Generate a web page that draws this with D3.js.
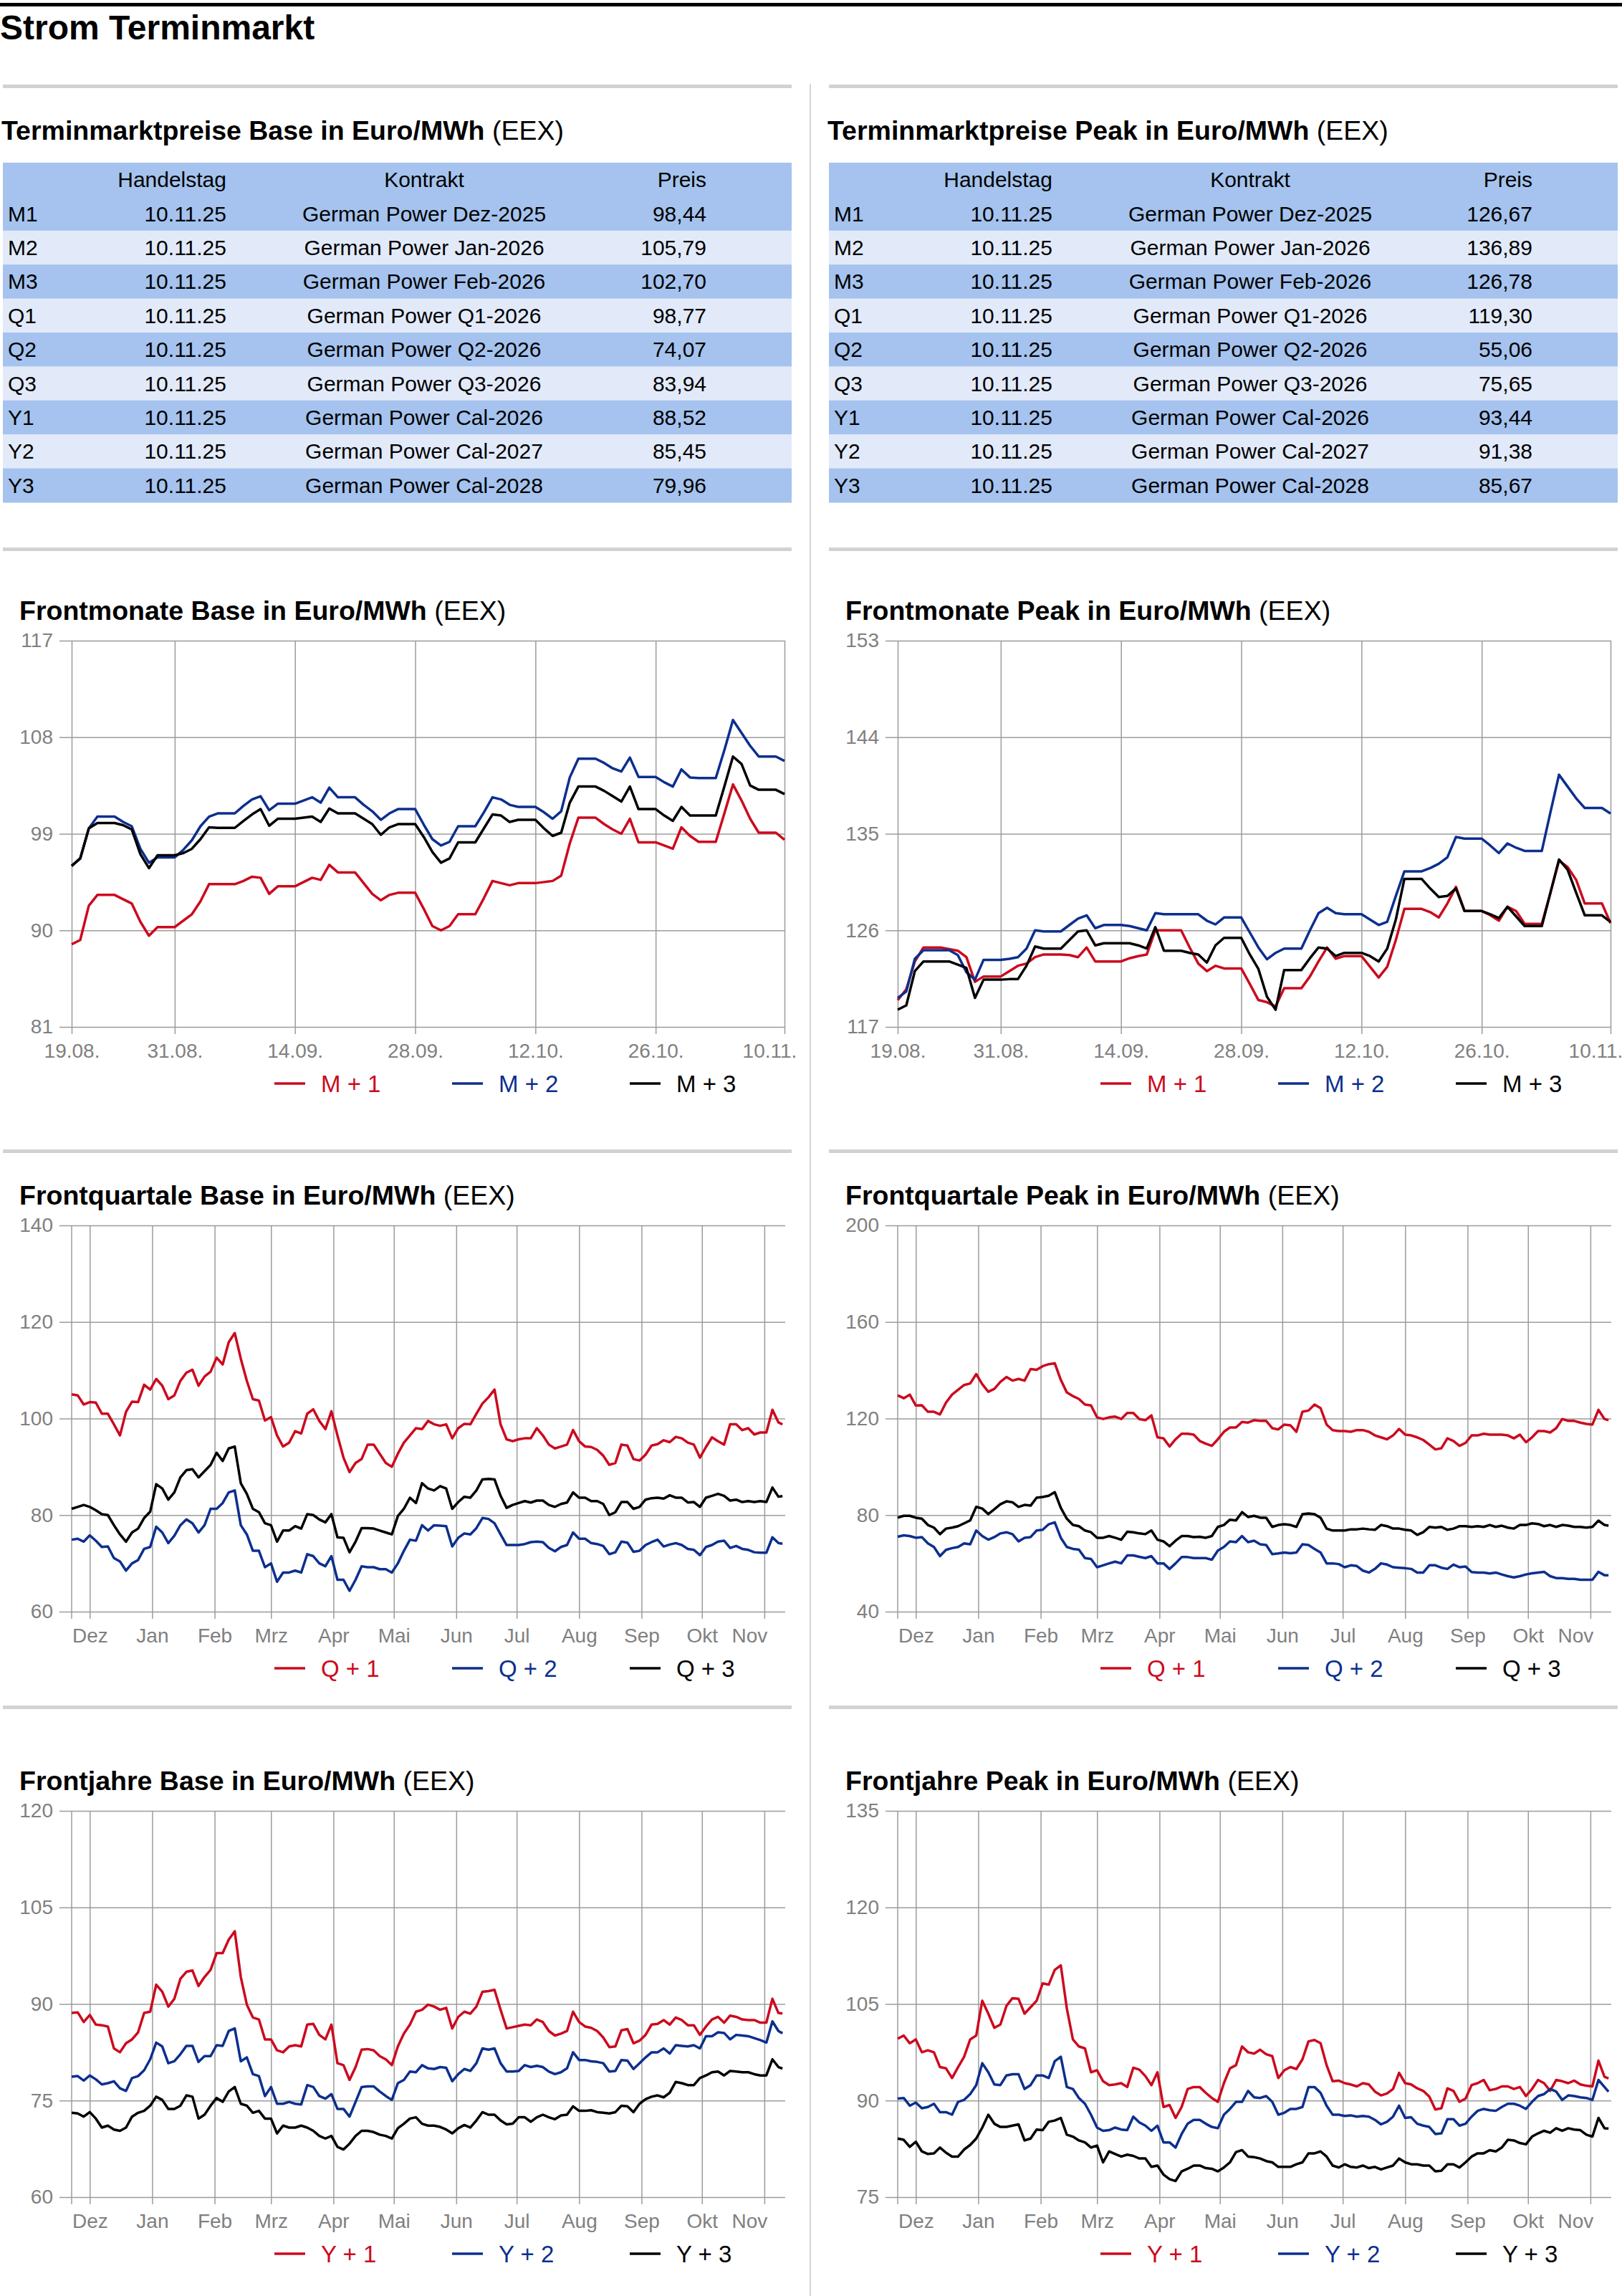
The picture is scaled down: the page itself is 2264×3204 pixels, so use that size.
<!DOCTYPE html>
<html>
<head>
<meta charset="utf-8">
<script src="https://cdn.jsdelivr.net/npm/d3@7"></script>
<style>
  body { margin: 0; background: #fff; }
  svg text { font-family: "Liberation Sans", Arial, Helvetica, sans-serif; }
</style>
</head>
<body>
<div id="svg-container"></div>
<script>
////////////////////////////////////////////////////////////////////
////////////////////////////  Data  ////////////////////////////////
const parseDate = d3.timeParse("%Y-%m-%d");

// tables
const tableHeader = ["Handelstag", "Kontrakt", "Preis"];
const rowLabels = ["M1", "M2", "M3", "Q1", "Q2", "Q3", "Y1", "Y2", "Y3"];
const tradeDate = "10.11.25";
const contracts = [
  "German Power Dez-2025", "German Power Jan-2026", "German Power Feb-2026",
  "German Power Q1-2026", "German Power Q2-2026", "German Power Q3-2026",
  "German Power Cal-2026", "German Power Cal-2027", "German Power Cal-2028"
];
const basePrices = ["98,44", "105,79", "102,70", "98,77", "74,07", "83,94", "88,52", "85,45", "79,96"];
const peakPrices = ["126,67", "136,89", "126,78", "119,30", "55,06", "75,65", "93,44", "91,38", "85,67"];

// Frontmonate: daily values 19.08.2025 - 10.11.2025
const monthDates = d3.timeDay.range(parseDate("2025-08-19"), parseDate("2025-11-11"));
const monthTicks = ["2025-08-19", "2025-08-31", "2025-09-14", "2025-09-28", "2025-10-12", "2025-10-26", "2025-11-10"];
const monthTickLabels = ["19.08.", "31.08.", "14.09.", "28.09.", "12.10.", "26.10.", "10.11."];

const baseM1 = [88.7,89.1,92.3,93.3,93.3,93.3,92.9,92.5,90.8,89.5,90.3,90.3,90.3,90.9,91.5,92.7,94.3,94.3,94.3,94.3,
  94.6,95.0,94.9,93.4,94.1,94.1,94.1,94.5,94.9,94.7,96.1,95.4,95.4,95.4,94.4,93.4,92.8,93.3,93.5,93.5,
  93.5,92.0,90.4,90.0,90.4,91.5,91.5,91.5,93.0,94.6,94.4,94.2,94.4,94.4,94.4,94.5,94.6,95.1,98.1,100.5,
  100.5,100.5,99.9,99.4,99.0,100.4,98.2,98.2,98.2,97.9,97.6,99.6,98.8,98.25,98.25,98.25,100.9,103.6,102.1,100.4,
  99.1,99.1,99.1,98.44];
const baseM2 = [96.0,96.7,99.5,100.6,100.6,100.6,100.1,99.7,97.6,96.3,96.8,96.8,96.8,97.5,98.4,99.7,100.6,100.9,100.9,100.9,
  101.6,102.2,102.5,101.2,101.8,101.8,101.8,102.1,102.4,101.9,103.3,102.4,102.4,102.4,101.7,101.1,100.3,100.9,101.3,101.3,
  101.3,99.85,98.5,97.9,98.25,99.7,99.7,99.7,101.0,102.4,102.2,101.7,101.5,101.5,101.5,101.0,100.4,101.1,104.25,106.0,
  106.0,106.0,105.6,105.1,104.8,106.1,104.3,104.3,104.3,103.8,103.4,105.0,104.25,104.2,104.2,104.2,106.8,109.6,108.4,107.2,
  106.2,106.2,106.2,105.79];
const baseM3 = [96.0,96.7,99.5,100.0,100.0,100.0,99.8,99.4,97.1,95.8,97.0,97.0,97.0,97.2,97.6,98.5,99.6,99.55,99.55,99.55,
  100.2,100.8,101.3,99.75,100.4,100.4,100.4,100.5,100.6,100.1,101.35,100.9,100.9,100.9,100.4,99.9,98.9,99.6,99.9,99.9,
  99.9,98.7,97.3,96.3,96.7,98.2,98.2,98.2,99.5,100.8,100.7,100.1,100.3,100.3,100.3,99.5,98.8,99.1,101.9,103.4,
  103.4,103.4,103.0,102.5,102.0,103.4,101.3,101.3,101.3,100.7,100.2,101.5,100.7,100.7,100.7,100.7,103.4,106.2,105.5,103.5,
  103.1,103.1,103.1,102.70];

const peakM1 = [119.5,120.5,123.1,124.4,124.4,124.4,124.25,124.1,123.5,121.2,121.7,121.7,121.7,122.2,122.7,122.9,123.5,123.75,123.75,123.75,
  123.7,123.5,124.4,123.1,123.1,123.1,123.1,123.4,123.6,123.75,126.0,126.0,126.0,126.0,124.4,122.9,122.2,122.7,122.45,122.45,
  122.45,121.0,119.5,119.3,118.9,120.6,120.6,120.6,121.7,123.1,124.4,123.35,123.6,123.6,123.6,122.6,121.6,122.6,125.1,128.0,
  128.0,128.0,127.7,127.2,128.5,130.05,127.8,127.8,127.8,127.4,126.9,128.2,127.8,126.6,126.6,126.6,129.5,132.5,131.9,130.7,
  128.5,128.5,128.5,126.67];
const peakM2 = [119.7,120.3,123.35,124.15,124.15,124.15,124.15,123.7,122.1,121.4,123.25,123.25,123.25,123.35,123.5,124.3,126.0,125.9,125.9,125.9,
  126.5,127.1,127.4,126.2,126.5,126.5,126.5,126.4,126.2,126.0,127.6,127.5,127.5,127.5,127.5,127.5,126.9,126.55,127.2,127.2,
  127.2,125.8,124.4,123.3,123.9,124.3,124.3,124.3,126.0,127.6,128.1,127.6,127.5,127.5,127.5,127.0,126.5,126.8,129.2,131.5,
  131.5,131.5,131.8,132.2,132.8,134.7,134.55,134.55,134.55,133.9,133.2,134.1,133.7,133.4,133.4,133.4,137.0,140.5,139.4,138.3,
  137.4,137.4,137.4,136.89];
const peakM3 = [118.6,119.0,122.2,123.1,123.1,123.1,123.1,122.8,122.5,119.7,121.4,121.4,121.4,121.45,121.45,122.7,124.5,124.3,124.3,124.3,
  125.1,125.9,126.0,124.6,124.8,124.8,124.8,124.8,124.6,124.3,126.3,124.1,124.1,124.1,123.9,123.75,123.0,124.6,125.3,125.3,
  125.3,123.75,122.4,119.8,118.6,122.3,122.3,122.3,123.4,124.4,124.3,123.6,123.9,123.9,123.9,123.6,123.1,124.3,127.0,130.8,
  130.8,130.8,129.9,129.1,129.2,129.9,127.8,127.8,127.8,127.5,127.15,128.2,127.3,126.4,126.4,126.4,129.5,132.6,131.65,129.5,
  127.4,127.4,127.4,126.78];

// Frontquartale / Frontjahre: values read every third day from 22.11.2024, last one 10.11.2025
const yearDates = d3.timeDay.range(parseDate("2024-11-22"), parseDate("2025-11-09"), 3)
  .concat([parseDate("2025-11-10")]);
const yearTicks = ["2024-12-01", "2025-01-01", "2025-02-01", "2025-03-01", "2025-04-01", "2025-05-01",
  "2025-06-01", "2025-07-01", "2025-08-01", "2025-09-01", "2025-10-01", "2025-11-01"];
const yearTickLabels = ["Dez", "Jan", "Feb", "Mrz", "Apr", "Mai", "Jun", "Jul", "Aug", "Sep", "Okt", "Nov"];

const baseQ1 = [105.0,104.8,102.9,103.4,103.3,101.0,101.0,98.8,96.5,101.4,
  103.5,103.4,107.0,106.0,108.2,106.8,104.0,104.8,107.8,109.5,
  110.1,106.8,108.7,109.7,112.6,111.2,115.8,117.7,112.4,107.8,
  104.0,103.7,99.6,100.3,96.5,94.2,95.0,97.4,96.9,101.0,
  101.9,99.5,97.8,101.5,96.5,91.9,88.9,90.8,91.6,94.6,
  94.6,92.7,90.8,90.0,92.7,95.0,96.5,98.0,97.8,99.5,
  98.8,98.5,98.8,95.9,98.0,98.9,98.8,101.0,103.1,104.4,
  106.0,98.8,95.7,95.3,95.7,95.9,95.9,98.0,96.5,94.6,
  93.8,94.2,94.6,97.6,95.3,94.2,94.1,93.5,92.3,90.4,
  90.8,94.6,94.4,91.6,91.3,92.5,94.4,94.7,95.5,95.1,
  96.2,95.9,95.0,94.6,91.9,94.1,96.1,95.3,94.6,98.8,
  98.8,97.6,98.0,96.7,97.1,97.1,101.8,99.2,98.77];
const baseQ2 = [74.9,75.1,74.5,75.8,74.7,73.4,73.5,71.1,70.4,68.5,
  70.0,70.7,73.0,73.4,77.6,76.4,74.2,75.7,77.9,79.1,
  78.3,76.4,77.9,81.3,81.3,82.5,84.7,85.1,77.9,76.0,
  72.6,72.6,69.2,70.0,66.2,68.1,68.1,68.5,68.1,71.9,
  71.5,70.0,69.4,71.5,66.6,66.6,64.3,66.6,69.4,69.2,
  69.2,68.8,68.8,68.1,70.0,72.6,74.9,74.7,77.9,76.8,
  77.9,77.8,77.7,73.5,75.3,76.2,76.0,77.3,79.4,79.2,
  78.3,76.0,73.8,73.8,73.8,74.0,74.4,74.5,74.4,73.2,
  72.5,73.4,73.8,76.4,75.1,75.1,74.2,74.0,73.6,71.9,
  72.3,74.5,74.3,72.4,72.6,73.8,74.4,74.9,73.5,73.9,
  74.2,73.8,73.0,72.8,71.7,73.4,73.8,74.5,74.7,73.2,
  73.6,73.0,72.8,72.3,72.2,72.2,75.4,74.2,74.07];
const baseQ3 = [81.3,81.7,82.1,81.7,81.0,80.2,80.0,77.9,76.0,74.5,
  76.4,77.2,79.4,80.7,86.4,85.5,83.2,84.7,87.8,89.3,
  89.5,87.8,89.1,90.4,92.9,91.2,93.8,94.2,86.6,84.4,
  81.3,80.6,78.3,77.9,74.5,76.8,76.8,77.7,77.2,80.2,
  80.0,79.1,78.5,80.2,75.4,75.3,72.3,74.5,77.3,77.3,
  77.2,76.8,76.4,76.0,79.8,81.3,83.6,82.5,86.6,85.5,
  85.1,86.0,85.5,81.3,82.7,83.8,83.6,85.1,87.4,87.5,
  87.4,84.0,81.5,82.1,82.5,82.9,82.6,83.0,83.0,82.1,
  81.7,82.3,82.6,84.7,83.6,83.6,82.9,82.9,82.3,80.0,
  80.6,82.7,82.7,81.3,81.7,83.2,83.5,83.6,83.4,84.1,
  83.6,83.6,82.6,82.7,81.7,83.6,84.0,84.4,84.0,83.0,
  83.2,82.7,82.9,82.7,82.9,82.7,85.7,83.8,83.94];

const peakQ1 = [129.6,128.4,129.9,125.4,125.5,122.8,122.8,121.7,126.6,129.9,
  131.9,133.9,134.5,138.4,134.2,131.1,132.3,135.2,137.2,135.7,
  136.4,135.7,140.5,140.2,141.7,142.5,142.9,136.0,130.8,129.3,
  128.1,125.8,125.4,120.5,119.8,120.5,120.8,119.8,122.3,122.3,
  119.8,119.3,121.3,112.2,111.8,108.4,111.4,113.7,113.7,113.3,
  110.7,109.6,108.7,111.4,114.5,116.3,116.3,118.6,118.3,119.3,
  119.0,119.0,116.0,115.5,117.5,117.2,114.5,122.8,123.3,125.8,
  124.3,117.5,115.2,114.8,114.8,114.5,115.2,115.2,114.5,113.0,
  112.2,111.4,113.0,115.7,113.3,113.0,112.2,111.1,109.2,107.2,
  107.7,111.8,110.7,108.7,109.9,113.0,113.0,113.7,113.3,113.3,
  113.3,113.0,111.8,113.3,110.2,112.2,114.8,114.8,114.2,116.0,
  119.8,119.0,119.0,118.3,117.8,117.5,123.6,119.8,119.30];
const peakQ2 = [71.0,71.6,71.3,70.6,70.9,68.3,66.8,63.0,65.6,66.3,
  66.8,68.3,67.9,73.6,71.3,69.8,70.9,72.4,72.9,72.1,
  69.1,70.6,70.9,73.6,73.9,76.2,77.0,70.6,66.8,66.0,
  65.7,62.2,61.8,58.4,59.2,60.0,60.7,60.0,63.3,63.3,
  62.7,62.2,63.0,60.0,60.0,57.7,60.0,62.6,62.6,62.2,
  62.2,62.2,61.5,65.3,66.8,69.1,68.8,71.3,68.8,69.4,
  67.9,67.6,63.8,64.1,64.5,64.2,64.5,67.9,67.6,66.0,
  64.5,60.0,60.0,59.7,58.4,59.2,58.9,57.0,56.2,57.7,
  60.0,59.5,58.4,58.2,58.0,57.7,56.2,56.2,59.2,59.2,
  58.2,57.7,59.5,58.4,58.7,56.4,56.2,56.2,55.8,56.2,
  55.4,54.7,54.2,54.7,55.4,55.9,56.2,56.5,54.7,53.9,
  53.9,53.6,53.6,53.2,53.2,53.2,56.5,55.1,55.06];
const peakQ3 = [78.9,79.7,79.7,78.9,78.5,75.9,74.8,72.1,74.4,74.8,
  75.4,76.6,77.8,83.4,82.7,80.4,82.4,84.5,85.7,85.3,
  83.4,84.2,83.9,87.2,87.5,88.0,89.5,83.0,78.5,75.9,
  75.4,73.6,72.9,70.6,70.6,71.3,70.6,69.8,73.1,72.9,
  72.4,72.1,73.6,69.8,69.1,67.1,69.4,71.3,71.3,70.9,
  71.0,70.6,71.3,75.1,75.9,78.1,77.8,81.2,79.2,79.7,
  78.9,78.9,75.1,75.9,76.2,75.9,75.1,80.4,80.7,80.4,
  78.9,74.4,73.6,73.6,73.6,74.1,74.1,74.4,74.1,73.9,
  75.9,75.4,74.4,74.4,73.9,73.6,71.8,72.9,75.1,74.8,
  75.1,73.9,74.4,75.4,75.4,75.1,75.4,75.1,75.9,75.1,
  75.6,74.8,74.4,75.9,75.9,76.6,76.3,75.4,75.9,75.1,
  75.9,75.6,75.1,75.1,74.8,75.1,77.7,75.9,75.65];

const baseY1 = [88.6,88.7,87.2,88.3,86.8,86.7,86.5,83.1,82.5,83.9,
  84.5,85.6,88.6,88.8,93.0,91.9,89.6,90.8,93.9,95.0,
  95.2,92.8,94.2,95.3,97.9,97.9,100.0,101.3,94.2,89.9,
  87.9,87.6,84.5,84.5,82.8,82.5,83.4,83.6,83.4,86.8,
  86.9,85.2,84.5,86.8,80.8,80.5,78.2,80.2,82.9,83.0,
  82.8,81.9,81.4,80.5,83.4,85.4,86.8,88.8,89.1,89.9,
  89.6,89.1,89.4,86.2,88.0,88.8,88.5,89.6,91.9,92.0,
  92.2,89.1,86.2,86.4,86.6,86.8,86.7,87.6,87.2,85.8,
  85.1,85.4,85.8,88.8,87.2,86.5,86.3,85.8,84.8,83.3,
  83.4,85.9,86.1,83.9,84.3,85.2,86.8,86.9,87.5,86.8,
  87.9,87.5,86.7,86.7,85.2,86.5,87.6,88.0,87.1,88.2,
  88.0,87.6,87.5,87.5,87.1,87.1,90.8,88.6,88.52];
const baseY2 = [78.7,78.8,78.1,78.9,78.3,77.5,77.7,78.0,76.9,76.5,
  78.5,78.8,79.7,81.4,84.0,83.4,80.8,81.1,82.2,83.5,
  83.5,81.0,81.9,81.9,83.6,83.5,85.8,86.2,81.1,81.7,
  79.1,78.8,75.7,77.1,74.5,74.5,74.8,74.5,74.4,77.4,
  77.1,75.7,75.3,76.0,73.7,73.7,72.5,74.8,77.1,77.2,
  77.2,76.4,75.7,75.1,77.7,78.2,79.5,79.4,80.5,80.0,
  79.9,80.2,80.1,78.0,79.1,79.9,79.6,80.8,83.1,82.9,
  83.1,80.8,79.5,79.5,79.6,80.5,80.2,80.4,80.2,79.5,
  79.1,79.4,80.0,82.5,81.3,81.3,81.1,81.0,80.8,79.5,
  79.6,81.3,81.2,79.9,80.8,81.7,82.5,82.5,83.1,82.3,
  83.6,83.5,83.4,83.6,83.1,85.0,85.0,85.6,85.5,84.5,
  85.2,85.1,85.0,84.7,84.4,84.0,87.3,85.8,85.45];
const baseY3 = [73.1,73.0,72.5,73.2,72.2,70.8,71.1,70.5,70.3,70.8,
  72.5,73.1,73.4,74.2,75.6,75.1,73.7,73.7,74.2,75.8,
  75.6,72.2,72.8,74.2,75.4,74.8,76.4,77.1,74.5,74.2,
  73.1,73.4,72.2,72.2,69.9,71.1,70.8,70.8,71.1,70.8,
  70.3,69.5,69.1,69.5,67.8,67.4,68.3,69.5,70.3,70.3,
  70.1,69.7,69.5,69.1,70.7,71.4,72.2,72.4,71.4,71.1,
  71.1,70.9,70.5,69.9,70.7,71.2,70.8,71.9,73.2,72.8,
  72.8,71.9,71.3,71.4,72.4,72.4,71.7,72.4,72.8,72.4,
  72.1,72.7,72.8,74.1,73.4,73.4,73.5,73.2,73.1,73.0,
  73.2,74.2,74.1,73.2,74.5,75.2,75.6,75.8,75.5,76.2,
  77.9,77.7,77.4,77.4,78.5,78.9,79.4,79.5,78.9,79.6,
  79.5,79.4,79.4,79.1,78.9,78.9,81.4,80.2,79.96];

const peakY1 = [99.6,100.1,98.9,99.5,97.5,97.8,97.5,95.2,95.0,93.5,
  95.2,96.8,99.5,100.1,105.5,103.5,101.3,101.8,104.7,105.9,
  105.8,103.5,104.5,105.5,108.2,108.0,110.3,111.0,104.3,99.5,
  98.4,98.1,94.4,94.7,93.0,92.4,92.5,92.7,92.1,95.1,
  94.8,93.8,92.4,94.4,89.0,89.3,87.3,89.0,91.8,92.1,
  92.1,91.2,90.4,89.8,92.7,95.0,95.5,98.4,97.5,97.3,
  97.9,97.2,96.9,93.5,94.7,95.2,94.9,96.4,99.2,99.4,
  98.9,95.5,93.0,93.1,92.7,92.5,92.2,92.7,92.5,91.4,
  90.8,91.1,91.8,94.3,92.7,92.5,91.9,91.5,90.6,88.6,
  88.8,91.9,91.5,89.8,90.3,92.4,92.7,93.2,91.6,91.8,
  92.2,92.2,91.8,92.1,90.7,91.8,93.2,92.7,91.5,93.2,
  93.0,92.7,93.1,92.5,92.3,92.2,96.2,93.7,93.44];
const peakY2 = [90.3,90.4,89.2,89.7,88.8,89.0,89.5,88.2,88.2,87.8,
  89.8,90.1,91.0,92.4,95.8,94.4,92.5,92.4,93.9,94.1,
  94.1,91.8,92.4,93.9,93.9,93.5,96.1,96.8,92.1,91.8,
  90.4,89.5,87.8,85.8,85.3,85.4,85.8,85.5,85.4,87.5,
  86.6,86.1,85.3,86.1,83.5,83.5,82.7,84.8,86.4,87.0,
  87.0,86.4,85.9,85.7,87.8,88.7,89.8,89.8,91.5,90.5,
  90.4,90.7,89.8,87.8,88.1,88.7,88.7,89.0,92.1,92.1,
  91.2,89.2,87.8,87.8,87.6,87.7,87.5,87.6,87.5,87.0,
  86.3,86.7,87.5,89.2,87.3,87.4,86.4,86.1,85.9,84.8,
  84.9,87.1,87.1,86.1,86.4,87.5,88.4,88.7,88.5,88.4,
  89.0,89.5,89.5,89.2,88.7,89.8,90.7,91.0,91.8,91.4,
  90.1,90.8,90.7,90.5,90.4,90.1,93.2,92.1,91.38];
const peakY3 = [84.1,83.9,82.8,83.6,82.1,81.7,81.8,82.7,81.9,81.3,
  81.3,82.4,83.1,84.1,85.8,87.8,86.4,85.9,85.9,86.1,
  86.3,83.8,84.1,85.5,85.4,86.7,86.9,87.3,84.7,84.4,
  83.8,83.5,82.7,83.0,80.4,82.1,81.7,81.3,81.6,81.4,
  81.0,81.0,79.7,79.9,78.5,77.8,77.5,79.0,79.4,79.9,
  79.9,79.5,79.4,79.0,79.6,80.4,82.0,82.3,81.3,81.2,
  81.0,80.6,80.4,79.7,79.7,79.7,80.1,80.4,81.8,81.8,
  82.1,81.3,79.9,79.6,80.1,79.7,79.6,79.9,79.5,79.7,
  79.3,79.6,79.9,81.0,80.4,80.1,80.1,79.9,79.9,79.0,
  79.1,80.1,80.1,79.6,80.4,81.3,81.8,81.8,82.3,82.1,
  82.7,83.9,83.8,83.4,83.2,84.4,84.9,85.3,85.0,85.7,
  85.3,85.7,85.5,85.4,84.7,84.4,87.3,85.7,85.67];

const seriesColors = ["#cc0a1e", "#0c2f8e", "#000000"];

////////////////////////////////////////////////////////////////////
////////////////////////////  Init  ////////////////////////////////
const width = 2264;
const height = 3204;
const colShift = 1153;

const svg = d3
  .select("#svg-container")
  .append("svg")
  .attr("width", width)
  .attr("height", height);

svg.append("rect").attr("width", width).attr("height", height).attr("fill", "#fff");

// top rule + page title
svg.append("rect").attr("x", 0).attr("y", 4).attr("width", width).attr("height", 5).attr("fill", "#000");
svg
  .append("text")
  .attr("x", 0)
  .attr("y", 55)
  .attr("font-size", 48)
  .attr("font-weight", "bold")
  .text("Strom Terminmarkt");

// column divider
svg
  .append("line")
  .attr("x1", 1131)
  .attr("x2", 1131)
  .attr("y1", 117)
  .attr("y2", height)
  .attr("stroke", "#d6d6d6")
  .attr("stroke-width", 2);

// section separators
[120, 766, 1606, 2382].forEach((y) => {
  [0, colShift].forEach((dx) => {
    svg
      .append("rect")
      .attr("x", 4 + dx)
      .attr("y", y - 2)
      .attr("width", 1101)
      .attr("height", 5)
      .attr("fill", "#d2d2d2");
  });
});

function drawTitle(g, x, y, size, bold, normal) {
  const t = g.append("text").attr("x", x).attr("y", y).attr("font-size", size).attr("fill", "#000");
  t.append("tspan").attr("font-weight", "bold").text(bold);
  t.append("tspan").text(" " + normal);
}

////////////////////////////////////////////////////////////////////
////////////////////////////  Tables  //////////////////////////////
function drawTable(dx, title, prices) {
  const g = svg.append("g").attr("transform", `translate(${dx},0)`);
  drawTitle(g, 2, 195, 37.5, title, "(EEX)");

  const rowScale = d3.scaleBand().domain(d3.range(rowLabels.length + 1)).range([227, 701]);
  const rows = [{ label: "", date: tableHeader[0], contract: tableHeader[1], price: tableHeader[2] }].concat(
    rowLabels.map((d, i) => ({ label: d, date: tradeDate, contract: contracts[i], price: prices[i] }))
  );

  const row = g
    .selectAll(".row")
    .data(rows)
    .enter()
    .append("g")
    .attr("class", "row")
    .attr("transform", (d, i) => `translate(0, ${rowScale(i)})`);

  row
    .append("rect")
    .attr("x", 4)
    .attr("width", 1101)
    .attr("height", rowScale.bandwidth() + 0.5)
    .attr("fill", (d, i) => (i === 0 || i % 2 === 1 ? "#a5c3ee" : "#e2eaf9"));

  const ty = rowScale.bandwidth() / 2 + 10.5;
  const fs = 30;
  row.append("text").attr("x", 11).attr("y", ty).attr("font-size", fs).text((d) => d.label);
  row.append("text").attr("x", 316).attr("y", ty).attr("font-size", fs).attr("text-anchor", "end").text((d) => d.date);
  row.append("text").attr("x", 592).attr("y", ty).attr("font-size", fs).attr("text-anchor", "middle").text((d) => d.contract);
  row.append("text").attr("x", 986).attr("y", ty).attr("font-size", fs).attr("text-anchor", "end").text((d) => d.price);
}

drawTable(0, "Terminmarktpreise Base in Euro/MWh", basePrices);
drawTable(colShift, "Terminmarktpreise Peak in Euro/MWh", peakPrices);

////////////////////////////////////////////////////////////////////
////////////////////////////  Charts  //////////////////////////////
const plotLeft = 100;
const plotRight = 1096;
const plotH = 539;

function drawChart(opt) {
  const top = opt.top;
  const bottom = top + plotH;
  const g = svg.append("g").attr("transform", `translate(${opt.dx},0)`);

  drawTitle(g, 27, top - 29, 37.5, opt.title, "(EEX)");

  const xScale = d3.scaleTime().domain(opt.domain).range([plotLeft, 1095]);
  const yScale = d3
    .scaleLinear()
    .domain([opt.yTicks[0], opt.yTicks[opt.yTicks.length - 1]])
    .range([bottom, top]);

  // horizontal grid + labels
  const yAxis = d3
    .axisLeft(yScale)
    .tickValues(opt.yTicks)
    .tickSize(-(plotRight - 83))
    .tickPadding(9)
    .tickFormat(d3.format("d"));
  const yg = g.append("g").attr("transform", "translate(83,0)").call(yAxis);
  yg.select(".domain").remove();
  yg.selectAll("line").attr("stroke", "#9c9c9c").attr("stroke-width", 1.5);
  yg.selectAll("text")
    .attr("fill", "#808080")
    .attr("font-size", 28)
    .attr("font-family", '"Liberation Sans", Arial, sans-serif');

  // vertical grid + labels
  const tickDates = opt.ticks.map(parseDate);
  const xAxis = d3
    .axisBottom(xScale)
    .tickValues(tickDates)
    .tickSize(-(plotH + 10))
    .tickPadding(13)
    .tickFormat((d, i) => opt.tickLabels[i]);
  const xg = g.append("g").attr("transform", `translate(0, ${bottom + 10})`).call(xAxis);
  xg.select(".domain").remove();
  xg.selectAll("line").attr("stroke", "#9c9c9c").attr("stroke-width", 1.5);
  xg.selectAll("text")
    .attr("fill", "#808080")
    .attr("font-size", 28)
    .attr("font-family", '"Liberation Sans", Arial, sans-serif');
  xg.selectAll(".tick")
    .filter((d, i) => i === tickDates.length - 1)
    .select("text")
    .attr("x", -21);

  if (opt.edgeLine) {
    g.append("line")
      .attr("x1", xScale(opt.domain[0]))
      .attr("x2", xScale(opt.domain[0]))
      .attr("y1", top)
      .attr("y2", bottom + 10)
      .attr("stroke", "#9c9c9c")
      .attr("stroke-width", 1.5);
  }

  // lines
  const line = d3
    .line()
    .x((d) => xScale(d.date))
    .y((d) => yScale(d.v));

  opt.series.forEach((values, si) => {
    const data = values.map((v, i) => ({ date: opt.dates[i], v: v }));
    g.append("path")
      .datum(data)
      .attr("fill", "none")
      .attr("stroke", seriesColors[si])
      .attr("stroke-width", 3.5)
      .attr("stroke-linejoin", "round")
      .attr("d", line);
  });

  // legend
  const legendY = bottom + 79;
  const legendX = d3.scaleBand().domain(d3.range(3)).range([383, 383 + 3 * 248]);
  const item = g
    .selectAll(".legend-item")
    .data(opt.legend)
    .enter()
    .append("g")
    .attr("class", "legend-item")
    .attr("transform", (d, i) => `translate(${legendX(i)}, ${legendY})`);
  item
    .append("line")
    .attr("x1", 0)
    .attr("x2", 43)
    .attr("stroke", (d, i) => seriesColors[i])
    .attr("stroke-width", 3.5);
  item
    .append("text")
    .attr("x", 65)
    .attr("y", 11.5)
    .attr("font-size", 33)
    .attr("fill", (d, i) => seriesColors[i])
    .text((d) => d);
}

const monthDomain = [parseDate("2025-08-19"), parseDate("2025-11-10")];
const yearDomain = [parseDate("2024-11-22"), parseDate("2025-11-11")];

drawChart({
  dx: 0, top: 894, title: "Frontmonate Base in Euro/MWh",
  domain: monthDomain, dates: monthDates, series: [baseM1, baseM2, baseM3],
  yTicks: [81, 90, 99, 108, 117], ticks: monthTicks, tickLabels: monthTickLabels,
  edgeLine: false, legend: ["M + 1", "M + 2", "M + 3"]
});
drawChart({
  dx: colShift, top: 894, title: "Frontmonate Peak in Euro/MWh",
  domain: monthDomain, dates: monthDates, series: [peakM1, peakM2, peakM3],
  yTicks: [117, 126, 135, 144, 153], ticks: monthTicks, tickLabels: monthTickLabels,
  edgeLine: false, legend: ["M + 1", "M + 2", "M + 3"]
});
drawChart({
  dx: 0, top: 1710, title: "Frontquartale Base in Euro/MWh",
  domain: yearDomain, dates: yearDates, series: [baseQ1, baseQ2, baseQ3],
  yTicks: [60, 80, 100, 120, 140], ticks: yearTicks, tickLabels: yearTickLabels,
  edgeLine: true, legend: ["Q + 1", "Q + 2", "Q + 3"]
});
drawChart({
  dx: colShift, top: 1710, title: "Frontquartale Peak in Euro/MWh",
  domain: yearDomain, dates: yearDates, series: [peakQ1, peakQ2, peakQ3],
  yTicks: [40, 80, 120, 160, 200], ticks: yearTicks, tickLabels: yearTickLabels,
  edgeLine: true, legend: ["Q + 1", "Q + 2", "Q + 3"]
});
drawChart({
  dx: 0, top: 2527, title: "Frontjahre Base in Euro/MWh",
  domain: yearDomain, dates: yearDates, series: [baseY1, baseY2, baseY3],
  yTicks: [60, 75, 90, 105, 120], ticks: yearTicks, tickLabels: yearTickLabels,
  edgeLine: true, legend: ["Y + 1", "Y + 2", "Y + 3"]
});
drawChart({
  dx: colShift, top: 2527, title: "Frontjahre Peak in Euro/MWh",
  domain: yearDomain, dates: yearDates, series: [peakY1, peakY2, peakY3],
  yTicks: [75, 90, 105, 120, 135], ticks: yearTicks, tickLabels: yearTickLabels,
  edgeLine: true, legend: ["Y + 1", "Y + 2", "Y + 3"]
});
</script>
</body>
</html>
